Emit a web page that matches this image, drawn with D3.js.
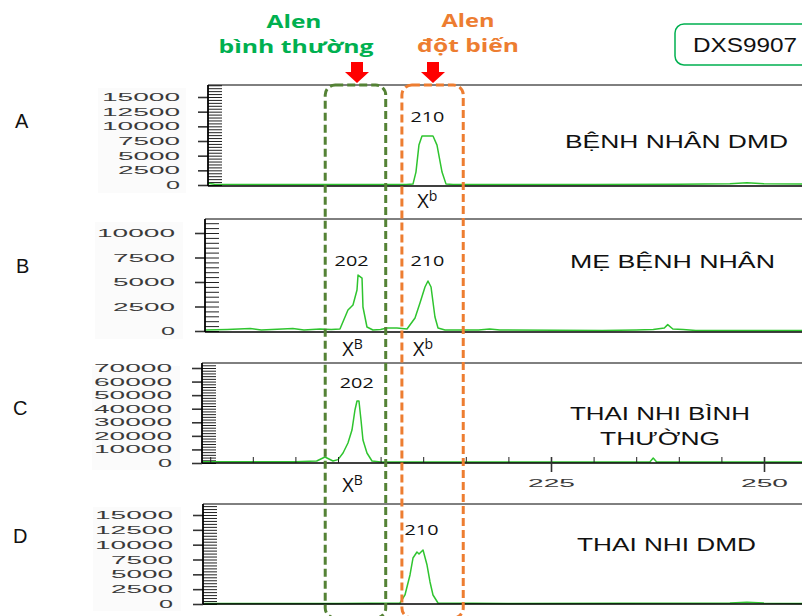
<!DOCTYPE html>
<meta charset="utf-8">
<style>
  body { margin: 0; background: #fff; }
  svg { display: block; background: #fff; }
  .axis text { font-family: 'Liberation Sans', Arial, sans-serif; font-size: 11px; fill: #3a3a3a; }
  .axis .domain { display: none; }
  .major line { stroke: #333; stroke-width: 1.6; }
  .minor line { stroke: #222; stroke-width: 1; }
  .frame { stroke: #000; fill: none; }
  .trace { fill: none; stroke: #2fc42f; stroke-width: 1.5; stroke-linejoin: round; }
  .panel-letter { font-family: 'Liberation Sans', Arial, sans-serif; font-size: 20px; fill: #111; }
  .title { font-family: 'Liberation Sans', Arial, sans-serif; font-size: 19px; fill: #111; }
  .peak { font-family: 'Open Sans', sans-serif; font-size: 15px; fill: #111; }
  .allele { font-family: 'Open Sans', sans-serif; font-size: 20px; fill: #111; }
  .head { font-family: 'Open Sans', sans-serif; font-weight: bold; font-size: 18px; }
</style>
<svg width="802" height="616"></svg>
<script src="https://d3js.org/d3.v7.min.js"></script>
<script>

// traces: [size in bp, signal]
var traceA = [[184.7,300],[185.5,120],[190,80],[200,80],[208,100],[208.8,150],[209.15,2200],[209.5,6800],
              [209.86,8350],[211.15,8350],[211.62,6800],[212.21,2200],[212.68,150],[213.5,80],[220,100],
              [230,100],[240,120],[246,200],[248,400],[250,200],[254.5,150]];
var traceB = [[184.4,100],[187,150],[189.7,250],[191,100],[194.7,250],[196,100],[197.9,200],[199.2,150],
              [200.23,200],[201.17,2140],[201.76,2650],[202.23,4180],[202.35,5710],[202.82,5400],[202.93,2450],
              [203.4,410],[204.1,100],[205,150],[205.75,300],[206.92,300],[208.1,200],[209.04,1330],[209.62,2860],
              [210.21,4490],[210.56,5100],[210.92,4490],[211.38,1430],[211.74,310],[212.56,100],[216.5,100],
              [217.8,200],[219,100],[231,50],[235,100],[237,150],[238.3,300],[238.7,650],[239.3,200],[240.5,150],
              [242,50],[254.5,50]];
var traceC = [[184,1000],[195,1000],[197.5,1500],[198.47,4400],[199.41,1470],[200,2500],[200.59,7370],
              [201.17,14740],[201.64,24300],[201.99,39050],[202.23,45680],[202.46,45680],[202.7,31680],
              [202.93,16950],[203.4,7370],[203.99,1470],[205,800],[215,800],[236.6,800],[237,3700],[237.4,800],
              [254.5,800]];
var traceD = [[184.3,100],[200,80],[207.28,170],[207.86,1520],[208.45,4890],[208.8,7750],[209.27,8760],
              [209.51,8430],[209.98,9100],[210.45,6570],[210.8,3710],[211.15,1520],[211.74,170],[220,100],
              [246,150],[248,300],[250,150],[254.5,100]];

var ticksA = [0, 2500, 5000, 7500, 10000, 12500, 15000];
var ticksB = [0, 2500, 5000, 7500, 10000];
var ticksC = [0, 10000, 20000, 30000, 40000, 50000, 60000, 70000];
var ticksD = [0, 2500, 5000, 7500, 10000, 12500, 15000];
var bpTicks = [225, 250];
var bpMinor = [185, 190, 195, 200, 205, 210, 215, 220, 225, 230, 235, 240, 245, 250, 255];

var peaksA = [{bp: 210.5, label: "210"}];
var peaksB = [{bp: 201.6, label: "202"}, {bp: 210.5, label: "210"}];
var peaksC = [{bp: 202.2, label: "202"}];
var peaksD = [{bp: 209.8, label: "210"}];

var allelesA = [{bp: 210.7, base: "X", sup: "b"}];
var allelesB = [{bp: 201.9, base: "X", sup: "B"}, {bp: 210.2, base: "X", sup: "b"}];
var allelesC = [{bp: 201.9, base: "X", sup: "B"}];
var allelesD = [];

var svg = d3.select("svg");
var W = 802;

var x = d3.scaleLinear().domain([225, 250]).range([551, 764]);

var panels = [
  {name: "A", lines: ["BỆNH NHÂN DMD"], trace: traceA, ticks: ticksA, minor: 500, peaks: peaksA, alleles: allelesA,
   left: 208, top: 85, bottom: 186, zero: 185, refY: 97, pad: 18, letterX: 15, letterY: 128,
   titleX: [565], titleY: [148], titleW: [223], peakY: 122, alleleY: 208},
  {name: "B", lines: ["MẸ BỆNH NHÂN"], trace: traceB, ticks: ticksB, minor: 500, peaks: peaksB, alleles: allelesB,
   left: 205, top: 219, bottom: 332, zero: 331, refY: 233, pad: 20, letterX: 16, letterY: 273,
   titleX: [570], titleY: [268], titleW: [205], peakY: 266, alleleY: 356},
  {name: "C", lines: ["THAI NHI BÌNH", "THƯỜNG"], trace: traceC, ticks: ticksC, minor: 2000, peaks: peaksC, alleles: allelesC,
   left: 202, top: 363, bottom: 463, zero: 463, refY: 368, pad: 20, letterX: 13, letterY: 415,
   titleX: [570, 600], titleY: [420, 445], titleW: [180, 120], peakY: 388, alleleY: 492},
  {name: "D", lines: ["THAI NHI DMD"], trace: traceD, ticks: ticksD, minor: 500, peaks: peaksD, alleles: allelesD,
   left: 203, top: 504, bottom: 604, zero: 604, refY: 515, pad: 20, letterX: 13, letterY: 543,
   titleX: [577], titleY: [551], titleW: [179], peakY: 535, alleleY: 0}
];

function stretch(sel, perChar) {
  sel.each(function () {
    var n = this.textContent.length;
    if (n) d3.select(this).attr("textLength", n * perChar - 2).attr("lengthAdjust", "spacingAndGlyphs");
  });
}

panels.forEach(function (p, i) {
  var y = d3.scaleLinear().domain([0, p.ticks[p.ticks.length - 1]]).range([p.zero, p.refY]);
  var g = svg.append("g").attr("class", "panel");

  // very faint backdrop behind tick labels
  g.append("rect").attr("x", p.left - 110).attr("y", p.top + 3).attr("width", 88).attr("height", p.bottom - p.top + 4)
    .attr("fill", "#fbfbfb");

  g.append("text").attr("class", "panel-letter").attr("x", p.letterX).attr("y", p.letterY).text(p.name);

  var minorVals = d3.range(0, y.invert(p.top) + 1, p.minor);
  g.append("g").attr("class", "axis minor").attr("transform", "translate(" + p.left + ",0)")
    .call(d3.axisRight(y).tickValues(minorVals).tickSize(14).tickFormat(""));

  var ax = g.append("g").attr("class", "axis major").attr("transform", "translate(" + p.left + ",0)")
    .call(d3.axisLeft(y).tickValues(p.ticks).tickSize(10).tickPadding(p.pad).tickFormat(d3.format("d")));
  stretch(ax.selectAll("text"), 16);

  var clipId = "clip" + p.name;
  svg.append("clipPath").attr("id", clipId).append("rect")
    .attr("x", p.left).attr("y", p.top - 2).attr("width", W - p.left).attr("height", p.bottom - p.top + 3);

  g.append("path").datum(p.trace).attr("class", "trace").attr("clip-path", "url(#" + clipId + ")")
    .attr("d", d3.line().x(function (d) { return x(d[0]); }).y(function (d) { return y(d[1]); }));

  // frame: top border, bottom axis line, vertical axis
  g.append("line").attr("class", "frame").attr("x1", p.left).attr("x2", W).attr("y1", p.top).attr("y2", p.top)
    .attr("stroke-width", 1).attr("stroke", i == 1 ? "#555" : "#000");
  g.append("line").attr("class", "frame").attr("x1", p.left).attr("x2", W).attr("y1", p.bottom).attr("y2", p.bottom)
    .attr("stroke-width", 1.4);
  g.append("line").attr("class", "frame").attr("x1", p.left).attr("x2", p.left).attr("y1", p.top).attr("y2", p.bottom)
    .attr("stroke-width", 1.8);

  if (p.name == "C") {
    var up = g.append("g").attr("class", "axis minor").attr("transform", "translate(0," + p.bottom + ")")
      .call(d3.axisTop(x).tickValues(bpMinor).tickSize(6).tickFormat(""));
    up.selectAll("line").attr("stroke-width", 1.5).attr("stroke", "#222");
    var down = g.append("g").attr("class", "axis major").attr("transform", "translate(0," + p.bottom + ")")
      .call(d3.axisBottom(x).tickValues(bpTicks).tickSize(9).tickPadding(7).tickFormat(d3.format("d")));
    down.selectAll("line").attr("y1", -6).attr("stroke-width", 2).attr("stroke", "#111");
    stretch(down.selectAll("text"), 16.3);
  }

  p.lines.forEach(function (t, k) {
    g.append("text").attr("class", "title").attr("x", p.titleX[k]).attr("y", p.titleY[k])
      .attr("textLength", p.titleW[k]).attr("lengthAdjust", "spacingAndGlyphs").text(t);
  });

  g.selectAll(".peak").data(p.peaks).enter().append("text").attr("class", "peak")
    .attr("x", function (d) { return x(d.bp); }).attr("y", p.peakY)
    .attr("text-anchor", "middle").attr("textLength", 34).attr("lengthAdjust", "spacingAndGlyphs")
    .text(function (d) { return d.label; });

  var al = g.selectAll(".allele").data(p.alleles).enter().append("text").attr("class", "allele")
    .attr("x", function (d) { return x(d.bp) - 12; }).attr("y", p.alleleY);
  al.append("tspan").text(function (d) { return d.base; });
  al.append("tspan").attr("dy", -7).attr("font-size", "14px").text(function (d) { return d.sup; });
});

// dashed allele windows
function dashedBox(b0, b1, color) {
  svg.append("rect").attr("x", x(b0)).attr("y", 85).attr("width", x(b1) - x(b0)).attr("height", 533)
    .attr("rx", 10).attr("fill", "none").attr("stroke", color).attr("stroke-width", 3)
    .attr("stroke-dasharray", "8,4");
}
dashedBox(198.5, 205.6, "#548235");
dashedBox(207.5, 214.7, "#ED7D31");

// red arrows above the windows
function arrow(cx) {
  var pts = [[cx - 6, 62], [cx + 6, 62], [cx + 6, 72], [cx + 12, 72], [cx, 83], [cx - 12, 72], [cx - 6, 72]];
  svg.append("polygon").attr("points", pts.join(" ")).attr("fill", "#ff0000");
}
arrow(357);
arrow(433);

function head(txt, cx, yb, w, color) {
  svg.append("text").attr("class", "head").attr("x", cx).attr("y", yb).attr("text-anchor", "middle")
    .attr("fill", color).attr("textLength", w).attr("lengthAdjust", "spacingAndGlyphs").text(txt);
}
head("Alen", 294, 28, 55, "#00B050");
head("bình thường", 296, 53, 155, "#00B050");
head("Alen", 468, 27, 53, "#ED7D31");
head("đột biến", 468, 52, 102, "#ED7D31");

// marker name box
svg.append("rect").attr("x", 675).attr("y", 24).attr("width", 150).attr("height", 41).attr("rx", 9)
  .attr("fill", "#fff").attr("stroke", "#00B050").attr("stroke-width", 1.5);
svg.append("text").attr("x", 693).attr("y", 52).attr("font-family", "'Liberation Sans', Arial, sans-serif")
  .attr("font-size", "21px").attr("fill", "#111").attr("textLength", 104).attr("lengthAdjust", "spacingAndGlyphs")
  .text("DXS9907");
</script>
